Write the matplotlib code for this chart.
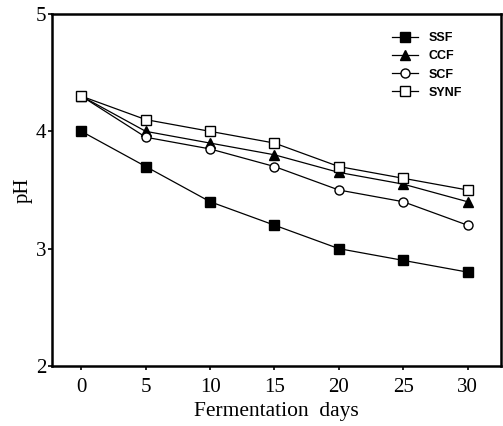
import matplotlib
matplotlib.use("Agg")
import matplotlib.pyplot as plt

days = [0, 5, 10, 15, 20, 25, 30]
ssf = [4.0, 3.7, 3.4, 3.2, 3.0, 2.9, 2.8]
ccf = [4.3, 4.0, 3.9, 3.8, 3.65, 3.55, 3.4]
scf = [4.3, 3.95, 3.85, 3.7, 3.5, 3.4, 3.2]
synf = [4.3, 4.1, 4.0, 3.9, 3.7, 3.6, 3.5]
x_ticks = [0, 5, 10, 15, 20, 25, 30]
y_ticks = [2, 3, 4, 5]

fig = plt.figure(figsize=(5.03, 4.26), dpi=100)
ax = fig.add_axes([0.103, 0.141, 0.893, 0.826])

kw = dict(color="black", linewidth=0.9, markersize=6.5, markeredgewidth=1.0)
ax.plot(days, ssf, marker="s", markerfacecolor="black", label="SSF", **kw)
ax.plot(days, ccf, marker="^", markerfacecolor="black", label="CCF", **kw)
ax.plot(days, scf, marker="o", markerfacecolor="white", label="SCF", **kw)
ax.plot(days, synf, marker="s", markerfacecolor="white", label="SYNF", **kw)

ax.set_xlim(-2.3, 32.6)
ax.set_ylim(2, 5)
ax.set_xticks(x_ticks)
ax.set_yticks(y_ticks)

serif = ["Liberation Serif", "DejaVu Serif"]
ax.set_xticklabels([str(v) for v in x_ticks], family=serif, fontsize=15)
ax.set_yticklabels([str(v) for v in y_ticks], family=serif, fontsize=15)
ax.tick_params(direction="out", length=3, width=1.2, pad=1)
ax.tick_params(axis="x", pad=6)
ax.set_xlabel("Fermentation  days", family=serif, fontsize=15.5, labelpad=3)
ax.set_ylabel("pH", family=serif, fontsize=15, labelpad=2)

for s in ax.spines.values():
    s.set_linewidth(1.8)

leg = ax.legend(loc="upper right", bbox_to_anchor=(0.924, 0.963), frameon=False,
                prop={"family": "Liberation Sans", "weight": "bold", "size": 9},
                handlelength=2.15, handletextpad=0.8, labelspacing=0.5,
                borderaxespad=0, markerscale=1.0)

fig.savefig("out.png", dpi=100)
